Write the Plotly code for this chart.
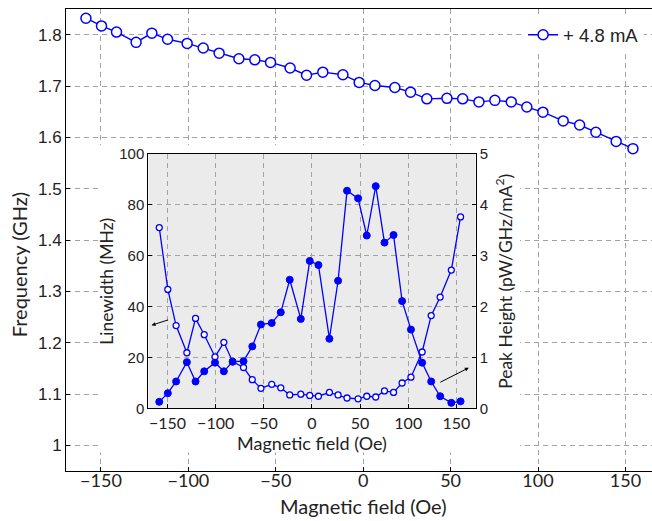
import plotly.graph_objects as go

# ---- data ----
field = [-158.6, -149.7, -141.1, -129.9, -120.9, -111.9, -100.7, -91.5, -82.4, -71.1,
         -62.0, -53.0, -41.8, -32.4, -23.1, -11.6, -2.3, 6.7, 18.1, 27.1, 36.4, 47.9,
         56.9, 66.2, 75.3, 84.7, 93.6, 102.8, 114.4, 123.8, 133.1, 144.7, 154.3]
frequency = [1.832, 1.817, 1.805, 1.785, 1.803, 1.791, 1.783, 1.774, 1.764, 1.753,
             1.751, 1.746, 1.735, 1.721, 1.727, 1.722, 1.707, 1.701, 1.697, 1.688,
             1.675, 1.676, 1.675, 1.669, 1.672, 1.669, 1.659, 1.649, 1.632, 1.624,
             1.610, 1.592, 1.578]
linewidth = [71.1, 46.8, 32.6, 21.9, 35.4, 29.0, 20.3, 26.0, 18.4, 16.1, 11.3, 7.9,
             9.5, 8.1, 5.3, 5.6, 5.1, 4.8, 6.3, 5.3, 4.1, 3.8, 4.8, 4.5, 6.9, 6.3,
             10.0, 12.3, 22.2, 36.5, 43.8, 54.4, 75.3]
peak_height = [0.13, 0.30, 0.53, 0.91, 0.53, 0.73, 0.90, 0.73, 0.92, 0.93, 1.22, 1.65,
               1.68, 1.89, 2.53, 1.76, 2.90, 2.82, 1.37, 2.51, 4.28, 4.13, 3.40, 4.37,
               3.26, 3.41, 2.11, 1.55, 0.90, 0.53, 0.24, 0.11, 0.14]
x_ticks = [-150, -100, -50, 0, 50, 100, 150]
series_name = "+ 4.8 mA"

BLUE = "#0000ff"
GRID = "#a3a3a3"
DASH = "5px,4px"
TXT = "Lato"
NUM = "Liberation Sans"

fig = go.Figure()

fig.add_trace(go.Scatter(
    x=field, y=frequency, mode="lines+markers", name=series_name,
    line=dict(color=BLUE, width=1.4),
    marker=dict(symbol="circle", size=10, color="white", line=dict(color=BLUE, width=1.5)),
    xaxis="x", yaxis="y"))

# dummy subplot providing the white cover behind the inset
fig.add_trace(go.Scatter(x=[], y=[], xaxis="x2", yaxis="y2", showlegend=False))

fig.add_trace(go.Scatter(
    x=field, y=linewidth, mode="lines+markers", showlegend=False,
    line=dict(color=BLUE, width=1.3),
    marker=dict(symbol="circle", size=6, color="white", line=dict(color=BLUE, width=1.3)),
    xaxis="x3", yaxis="y3"))
fig.add_trace(go.Scatter(
    x=field, y=peak_height, mode="lines+markers", showlegend=False,
    line=dict(color=BLUE, width=1.3),
    marker=dict(symbol="circle", size=7, color=BLUE, line=dict(color=BLUE, width=1)),
    xaxis="x3", yaxis="y4"))

axis_common = dict(showline=True, linecolor="black", linewidth=1, ticks="inside",
                   ticklen=4, tickcolor="black", zeroline=False)

fig.update_layout(
    width=652, height=521,
    margin=dict(l=66, r=0, t=2, b=50),
    paper_bgcolor="white", plot_bgcolor="white",
    showlegend=True,
    legend=dict(x=0.780, xanchor="left", y=0.9433, yanchor="middle",
                bgcolor="white", borderwidth=0,
                font=dict(family=NUM, size=18.5, color="#222")),
    xaxis=dict(domain=[0, 1], range=[-170, 165.2], tickvals=x_ticks, mirror=True,
               showgrid=True, gridcolor=GRID, griddash=DASH, gridwidth=1,
               ticklabelstandoff=-7,
               tickfont=dict(family=TXT, size=18, color="#222"), **axis_common),
    yaxis=dict(domain=[0, 1], range=[0.95, 1.85], tick0=1, dtick=0.1, mirror=False,
               showgrid=True, gridcolor=GRID, griddash=DASH, gridwidth=1,
               tickfont=dict(family=NUM, size=17, color="#222"), **axis_common),
    xaxis2=dict(domain=[0.0563, 0.7747], anchor="y2", visible=False, range=[0, 1]),
    yaxis2=dict(domain=[0.040, 0.7058], anchor="x2", visible=False, range=[0, 1]),
    xaxis3=dict(domain=[0.1404, 0.6991], anchor="y3", range=[-170, 170], tickvals=x_ticks,
                mirror=True, showgrid=True, gridcolor=GRID, griddash=DASH, gridwidth=1,
                tickfont=dict(family=TXT, size=16, color="#222"),
                title=dict(text="Magnetic field (Oe)", font=dict(family=TXT, size=18, color="#222"),
                           standoff=0),
                **axis_common),
    yaxis3=dict(domain=[0.1354, 0.6859], anchor="x3", range=[0, 100], dtick=20,
                showgrid=True, gridcolor=GRID, griddash=DASH, gridwidth=1,
                tickfont=dict(family=NUM, size=15, color="#222"),
                title=dict(text="Linewidth (MHz)", font=dict(family=TXT, size=17.5, color="#222"),
                           standoff=1),
                **axis_common),
    yaxis4=dict(overlaying="y3", anchor="x3", side="right", range=[0, 5], dtick=1,
                showgrid=False,
                tickfont=dict(family=NUM, size=15, color="#222"),
                title=dict(text="Peak Height (pW/GHz/mA<sup>2</sup>)",
                           font=dict(family=TXT, size=17.5, color="#222"), standoff=12),
                **axis_common),
)

# grey background of the inset
fig.add_shape(type="rect", xref="x3", yref="y3", x0=-170, x1=170, y0=0, y1=100,
              layer="below", fillcolor="#ebebeb", line=dict(width=0))

# axis titles of the main plot
fig.add_annotation(text="Frequency (GHz)", xref="paper", yref="paper", x=-0.080, y=0.4456,
                   textangle=-90, showarrow=False, xanchor="center", yanchor="middle",
                   font=dict(family=TXT, size=20, color="#222"))
fig.add_annotation(text="Magnetic field (Oe)", xref="x", yref="paper", x=0, y=-0.0768,
                   showarrow=False, xanchor="center", yanchor="middle",
                   font=dict(family=TXT, size=20, color="#222"))

# arrows in the inset
fig.add_annotation(x=-166.6, y=32.7, ax=-147.9, ay=35.0, xref="x3", yref="y3",
                   axref="x3", ayref="y3", showarrow=True, arrowhead=2, arrowsize=0.8,
                   arrowwidth=1, arrowcolor="black", text="")
fig.add_annotation(x=162.9, y=16.0, ax=131.7, ay=10.0, xref="x3", yref="y3",
                   axref="x3", ayref="y3", showarrow=True, arrowhead=2, arrowsize=0.8,
                   arrowwidth=1, arrowcolor="black", text="")

fig.write_html("out.html")
